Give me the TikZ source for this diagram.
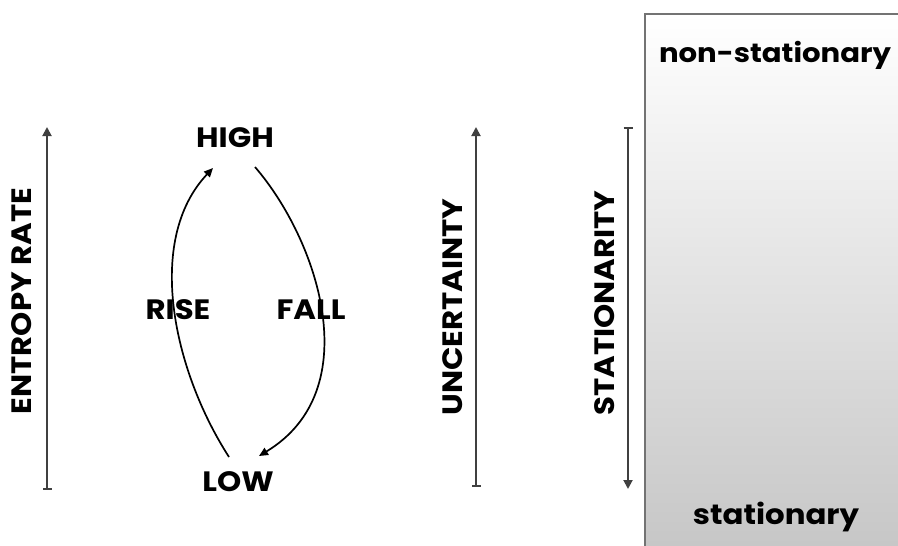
\documentclass[tikz,border=0pt]{standalone}
\usepackage{fontspec}
\setmainfont{Poppins}[FakeStretch=1.1]
\usetikzlibrary{arrows.meta}
\begin{document}
\begin{tikzpicture}[x=1pt,y=-1pt,
  lbl/.style={font=\fontsize{28}{32}\selectfont\bfseries, inner sep=0pt},
  axis/.style={line width=1.9pt, draw=black!75, {Bar[width=9pt,line width=1.6pt]}-{Triangle[length=9pt,width=9pt]}},
  curv/.style={line width=1.7pt, -{Triangle[length=9pt,width=8pt]}}]
\useasboundingbox (0,0) rectangle (898,546);
\shade[top color=white, bottom color=black!22] (645,14) rectangle (898,546);
\draw[black!55, line width=1.4pt] (645,546) -- (645,14) -- (898,14);
\node[lbl, font=\fontsize{26.5}{30}\selectfont\bfseries] (ns) at (775,55) {non-stationary};
\node[lbl] (st) at (776,517) {stationary};
% entropy rate axis
\coordinate (e0) at (47,490);
\coordinate (e1) at (47,127);
\draw[axis] (e0) -- (e1);
\node[lbl, rotate=90] (ent) at (22,301) {ENTROPY RATE};
% high/low cycle
\node[lbl] (high) at (235,138) {HIGH};
\node[lbl] (low) at (238,482) {LOW};
\node[lbl] (rise) at (178,310) {RISE};
\node[lbl] (fall) at (311,310) {FALL};
\coordinate (r0) at (229,457);
\coordinate (r1) at (213,168);
\coordinate (f0) at (255,167);
\coordinate (f1) at (259,456);
\draw[curv] (r0) .. controls (173,370) and (145,240) .. (r1);
\draw[curv] (f0) .. controls (318,240) and (368,390) .. (f1);
% uncertainty
\coordinate (u0) at (476,487);
\coordinate (u1) at (476,127);
\draw[axis] (u0) -- (u1);
\node[lbl, rotate=90] (unc) at (453,307) {UNCERTAINTY};
% stationarity
\coordinate (s0) at (628,127);
\coordinate (s1) at (628,489);
\draw[axis] (s0) -- (s1);
\node[lbl, rotate=90] (sta) at (605,303) {STATIONARITY};
\end{tikzpicture}
\end{document}
